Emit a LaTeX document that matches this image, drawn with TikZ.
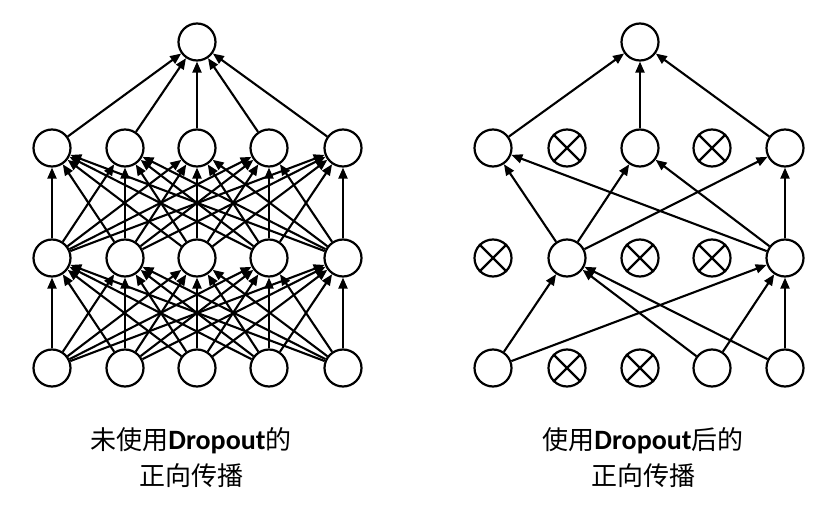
\documentclass[tikz,border=0pt]{standalone}
\usepackage{fontspec}
\newfontfamily\cjk{Noto Sans CJK SC}
\newfontfamily\lat{Carlito}
\usetikzlibrary{arrows.meta}
\begin{document}
\begin{tikzpicture}[x=1pt,y=-1pt,
  neuron/.style={circle,draw,line width=2.2pt,minimum size=37pt,inner sep=0pt,fill=white},
  conn/.style={line width=2.1pt,-{Triangle[length=11pt,width=9pt]}},
  crossline/.style={line width=2.2pt},
  lbl/.style={font=\cjk\fontsize{26}{36}\selectfont,align=center,inner sep=0pt}]
\useasboundingbox (0,0) rectangle (835,508);

% ---------- left network ----------
\node[neuron] (Ltop) at (197,42) {};
\foreach \c/\x in {1/52,2/125,3/197,4/269,5/343}{
  \node[neuron] (L2\c) at (\x,148) {};
  \node[neuron] (L3\c) at (\x,258) {};
  \node[neuron] (L4\c) at (\x,368) {};
}
\foreach \a in {1,...,5}{
  \draw[conn] (L2\a) -- (Ltop);
  \foreach \b in {1,...,5}{
    \draw[conn] (L4\a) -- (L3\b);
    \draw[conn] (L3\a) -- (L2\b);
  }
}

% ---------- right network ----------
\node[neuron] (Rtop) at (640,42) {};
\foreach \c/\x in {1/493,2/567,3/640,4/712,5/785}{
  \node[neuron] (R2\c) at (\x,148) {};
  \node[neuron] (R3\c) at (\x,258) {};
  \node[neuron] (R4\c) at (\x,368) {};
}
% dropped units (crossed)
\foreach \n in {R22,R24,R31,R33,R34,R42,R43}{
  \draw[crossline] (\n.45) -- (\n.225);
  \draw[crossline] (\n.135) -- (\n.315);
}
\foreach \a/\b in {R41/R32,R41/R35,R44/R32,R44/R35,R45/R32,R45/R35,
                   R32/R21,R32/R23,R32/R25,R35/R21,R35/R23,R35/R25,
                   R21/Rtop,R23/Rtop,R25/Rtop}{
  \draw[conn] (\a) -- (\b);
}

% ---------- labels ----------
\node[lbl] (capL) at (191,458) {未使用{\lat\bfseries\fontsize{28}{36}\selectfont Dropout}的\\正向传播};
\node[lbl] (capR) at (643,458) {使用{\lat\bfseries\fontsize{28}{36}\selectfont Dropout}后的\\正向传播};
\end{tikzpicture}
\end{document}
